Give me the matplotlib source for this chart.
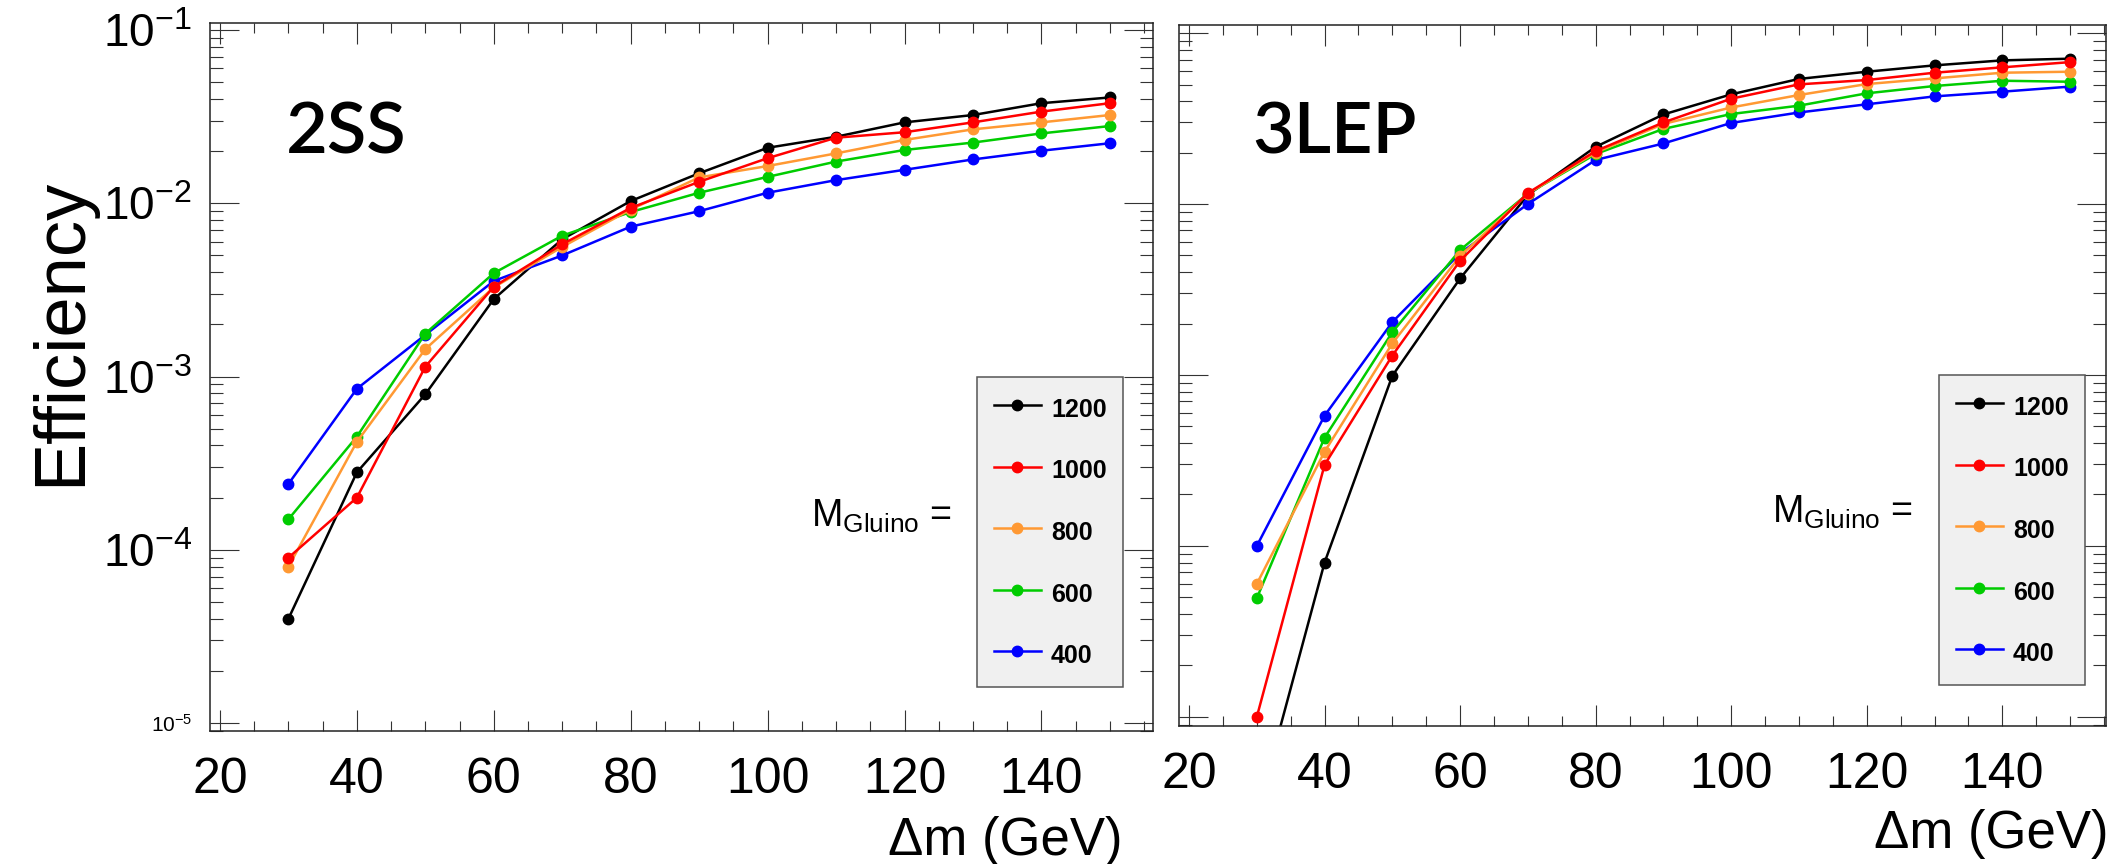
import numpy as np
import matplotlib
matplotlib.use("Agg")
import matplotlib.pyplot as plt
from matplotlib.ticker import LogLocator, MultipleLocator, NullFormatter

plt.rcParams["font.family"] = ["Liberation Sans", "DejaVu Sans"]
plt.rcParams["mathtext.fontset"] = "custom"
plt.rcParams["mathtext.rm"] = "Liberation Sans"
plt.rcParams["mathtext.it"] = "Liberation Sans:italic"

delta_m = [30, 40, 50, 60, 70, 80, 90, 100, 110, 120, 130, 140, 150]
mass_labels = ["1200", "1000", "800", "600", "400"]
mass_colors = ["#000000", "#ff0000", "#ff9933", "#00cc00", "#0000ff"]

# 2SS selection efficiency per gluino mass
ss_1200 = [4.0e-5, 2.8e-4, 7.9e-4, 2.8e-3, 6.2e-3, 1.03e-2, 1.49e-2, 2.09e-2, 2.42e-2, 2.93e-2, 3.23e-2, 3.78e-2, 4.08e-2]
ss_1000 = [9.0e-5, 2.0e-4, 1.14e-3, 3.3e-3, 5.8e-3, 9.4e-3, 1.33e-2, 1.82e-2, 2.39e-2, 2.57e-2, 2.93e-2, 3.38e-2, 3.78e-2]
ss_800 = [8.0e-5, 4.2e-4, 1.44e-3, 3.27e-3, 5.6e-3, 9.2e-3, 1.41e-2, 1.64e-2, 1.94e-2, 2.32e-2, 2.67e-2, 2.93e-2, 3.23e-2]
ss_600 = [1.5e-4, 4.5e-4, 1.77e-3, 3.95e-3, 6.5e-3, 8.9e-3, 1.15e-2, 1.42e-2, 1.74e-2, 2.03e-2, 2.24e-2, 2.53e-2, 2.79e-2]
ss_400 = [2.4e-4, 8.5e-4, 1.74e-3, 3.56e-3, 5.0e-3, 7.33e-3, 9.0e-3, 1.15e-2, 1.36e-2, 1.56e-2, 1.79e-2, 2.01e-2, 2.22e-2]

# 3LEP selection efficiency per gluino mass
lep_1200 = [2.7e-6, 8.0e-5, 9.9e-4, 3.67e-3, 1.13e-2, 2.16e-2, 3.34e-2, 4.38e-2, 5.39e-2, 5.94e-2, 6.47e-2, 6.92e-2, 7.08e-2]
lep_1000 = [1.0e-5, 2.98e-4, 1.30e-3, 4.66e-3, 1.16e-2, 2.04e-2, 3.0e-2, 4.13e-2, 5.01e-2, 5.31e-2, 5.86e-2, 6.30e-2, 6.76e-2]
lep_800 = [6.0e-5, 3.56e-4, 1.53e-3, 4.97e-3, 1.15e-2, 2.0e-2, 2.94e-2, 3.67e-2, 4.34e-2, 5.03e-2, 5.43e-2, 5.86e-2, 5.94e-2]
lep_600 = [4.95e-5, 4.3e-4, 1.78e-3, 5.38e-3, 1.15e-2, 1.96e-2, 2.75e-2, 3.36e-2, 3.76e-2, 4.44e-2, 4.90e-2, 5.26e-2, 5.19e-2]
lep_400 = [1.0e-4, 5.78e-4, 2.04e-3, 5.15e-3, 1.0e-2, 1.81e-2, 2.26e-2, 2.98e-2, 3.43e-2, 3.83e-2, 4.26e-2, 4.54e-2, 4.86e-2]

y_ticks = [1e-1, 1e-2, 1e-3, 1e-4, 1e-5]
y_ticklabels = [r"$\mathregular{10^{-1}}$", r"$\mathregular{10^{-2}}$", r"$\mathregular{10^{-3}}$",
                r"$\mathregular{10^{-4}}$", r"$\mathregular{10^{-5}}$"]
x_ticks = [20, 40, 60, 80, 100, 120, 140]

W, H = 2116, 864


def px_rect(x0, y0, x1, y1):
    return [x0 / W, 1 - y1 / H, (x1 - x0) / W, (y1 - y0) / H]


def draw_panel(ax, series, xlim, ylim, show_ylabels):
    lines = {}
    # draw order: black first so red sits on top
    for idx in [0, 4, 3, 2, 1]:
        (ln,) = ax.plot(delta_m, series[idx], color=mass_colors[idx], lw=1.8,
                        marker="o", ms=7.5, mec=mass_colors[idx], label=mass_labels[idx])
        lines[idx] = ln
    ax.set_yscale("log")
    ax.set_xlim(*xlim)
    ax.set_ylim(*ylim)

    ax.set_xticks(x_ticks)
    ax.set_xticklabels([str(v) for v in x_ticks])
    ax.xaxis.set_minor_locator(MultipleLocator(5))
    ax.set_yticks(y_ticks)
    ax.yaxis.set_minor_locator(LogLocator(base=10, subs=np.arange(2, 10), numticks=30))
    ax.yaxis.set_minor_formatter(NullFormatter())
    if show_ylabels:
        ax.set_yticklabels(y_ticklabels)
        for lab in ax.get_yticklabels():
            lab.set_fontsize(33)
        ax.get_yticklabels()[-1].set_fontsize(15)
    else:
        ax.set_yticklabels([])

    ax.tick_params(axis="both", which="both", direction="in", top=True, right=True,
                   color="#333333", width=0.8)
    ax.tick_params(axis="x", which="major", length=15, pad=19, labelsize=36)
    ax.tick_params(axis="x", which="minor", length=7.5)
    ax.tick_params(axis="y", which="major", length=21, pad=13)
    ax.tick_params(axis="y", which="minor", length=9.5)
    for sp in ax.spines.values():
        sp.set_linewidth(1.1)
        sp.set_color("#222222")
    return [lines[i] for i in range(5)]


fig = plt.figure(figsize=(W / 100, H / 100), dpi=100)

ax1 = fig.add_axes(px_rect(210, 23, 1153, 731))
ax2 = fig.add_axes(px_rect(1179, 25, 2106, 726))

h1 = draw_panel(ax1, [ss_1200, ss_1000, ss_800, ss_600, ss_400],
                (18.54, 156.3), (10 ** -5.046, 10 ** -0.9596), True)
h2 = draw_panel(ax2, [lep_1200, lep_1000, lep_800, lep_600, lep_400],
                (18.52, 155.3), (10 ** -5.053, 10 ** -0.953), False)

for ax, handles, (lx, ly) in [(ax1, h1, (977, 377)), (ax2, h2, (1939, 375))]:
    leg = ax.legend(handles=handles, loc="upper left", bbox_to_anchor=(lx / W, 1 - ly / H),
                    bbox_transform=fig.transFigure, borderaxespad=0, numpoints=1,
                    prop={"weight": "bold", "size": 18}, handlelength=1.9, handleheight=1.5,
                    handletextpad=0.4, borderpad=0.66, labelspacing=1.24,
                    fancybox=False, framealpha=1)
    leg.get_frame().set_facecolor("#f0f0f0")
    leg.get_frame().set_edgecolor("#555555")
    leg.get_frame().set_linewidth(1.1)

fig.text(62 / W, 1 - 332 / H, "Efficiency", rotation=90, ha="center", va="center", fontsize=52)

fig.text(286 / W, 1 - 153 / H, "2SS", fontsize=52, family="Lato", weight="semibold", va="baseline")
fig.text(1252 / W, 1 - 153 / H, "3LEP", fontsize=52, family="Lato", weight="semibold", va="baseline")

fig.text(952 / W, 1 - 527 / H, r"$\mathregular{M_{Gluino}}$ =", ha="right", va="baseline", fontsize=27)
fig.text(1913 / W, 1 - 523 / H, r"$\mathregular{M_{Gluino}}$ =", ha="right", va="baseline", fontsize=27)

fig.text(1122 / W, 1 - 855 / H, "Δm (GeV)", ha="right", va="baseline", fontsize=38)
fig.text(2108 / W, 1 - 848 / H, "Δm (GeV)", ha="right", va="baseline", fontsize=38)

fig.savefig("out.png", dpi=100)
